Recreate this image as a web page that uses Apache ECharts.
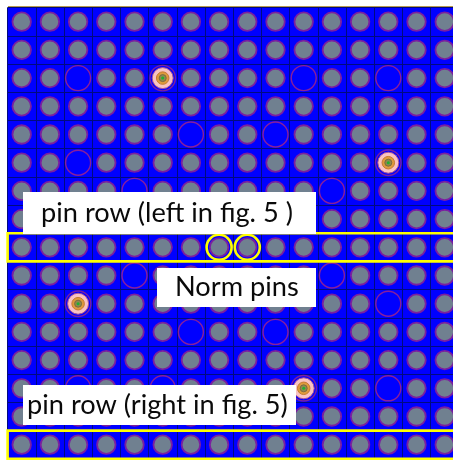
<!DOCTYPE html>
<html>
<head>
<meta charset="utf-8">
<style>
html,body{margin:0;padding:0;background:#fff;overflow:hidden}
#main{width:453px;height:460px}
</style>
<script src="https://cdn.jsdelivr.net/npm/echarts@6/dist/echarts.min.js"></script>
</head>
<body>
<div id="main"></div>
<script>
// o = normal pin, g = empty guide tube, s = instrumented pin, n = norm pin
let pinRows = [
	'oooooooooooooooo',
	'oooooooooooooooo',
	'oogoosoooogoogoo',
	'oooooooooooooooo',
	'oooooogoogoooooo',
	'oogoooooooooosoo',
	'oooogoooooogoooo',
	'oooooooooooooooo',
	'ooooooonnooooooo',
	'oooogoooooogoooo',
	'oosoooooooooogoo',
	'oooooogoogoooooo',
	'oooooooooooooooo',
	'oogoogoooosoogoo',
	'oooooooooooooooo',
	'oooooooooooooooo'
];

let boxedRows = [8, 15];
let labelTexts = ['pin row (left in fig. 5 )', 'Norm pins', 'pin row (right in fig. 5)'];

let normal = [], guide = [], special = [], norm = [];
for (let r in pinRows) {
	for (let c = 0; c < 16; c++) {
		let p = [c + 0.5, +r + 0.5];
		let t = pinRows[r][c];
		if (t == 'g') guide.push(p);
		else if (t == 's') special.push(p);
		else {
			normal.push(p);
			if (t == 'n') norm.push(p);
		}
	}
}

function pins(data, size, fill, border, bw, z) {
	return {
		type: 'scatter',
		data: data,
		symbol: 'circle',
		symbolSize: size,
		silent: true,
		animation: false,
		z: z || 2,
		itemStyle: { color: fill, borderColor: border, borderWidth: bw || 0, opacity: 1 }
	};
}

function labelBox(left, top, width, height, text, textLeft) {
	return [
		{ type: 'rect', z: 100, shape: { x: left, y: top, width: width, height: height }, style: { fill: '#fff' } },
		{ type: 'text', z: 101, x: textLeft, y: top + height / 2, style: { text: text, fill: '#0a0a0a', font: '27.2px Lato', verticalAlign: 'middle' } }
	];
}

let chart = echarts.init(document.getElementById('main'), null, { renderer: 'canvas' });
let series = [
	pins(normal, 18.5, '#708090', '#7a1fa0', 1.8),
	pins(guide, 25, 'rgba(0,0,0,0)', '#8a1f9a', 1.4),
	pins(special, 25.5, 'rgba(0,0,0,0)', '#7a1fa0', 1.4),
	pins(special, 21, '#f9c3c0', '#a8509a', 1),
	pins(special, 12.5, '#df9a3c', '#c57a30', 1, 3),
	pins(special, 7, '#8d8a50', '#7c6a40', 1, 3),
	pins(special, 3, '#20b030', '#20b030', 0, 4),
	pins(norm, 25, 'rgba(0,0,0,0)', '#ffff00', 2.6, 5)
];
series[0].markArea = {
	silent: true,
	z: 6,
	itemStyle: { color: 'rgba(0,0,0,0)', borderColor: '#ffff00', borderWidth: 2.6 },
	data: boxedRows.map(function (r) { return [{ coord: [0, r] }, { coord: [16, r + 1] }]; })
};

chart.setOption({
	animation: false,
	backgroundColor: '#fff',
	grid: { left: 7.6, top: 7.6, width: 451.2, height: 451.2, show: true, backgroundColor: '#0000ff', borderWidth: 0, outerBoundsMode: 'none' },
	xAxis: {
		type: 'value', min: 0, max: 16, interval: 1, position: 'top',
		axisLabel: { show: false }, axisTick: { show: false }, axisLine: { show: false },
		splitLine: { show: true, lineStyle: { color: '#000a80', width: 1 } }
	},
	yAxis: {
		type: 'value', min: 0, max: 16, interval: 1, inverse: true,
		axisLabel: { show: false }, axisTick: { show: false }, axisLine: { show: false },
		splitLine: { show: true, lineStyle: { color: '#000a80', width: 1 } }
	},
	series: series,
	graphic: [].concat(
		labelBox(23, 192, 293, 42, labelTexts[0], 41),
		labelBox(157, 268, 159, 39, labelTexts[1], 175),
		labelBox(23, 385, 273, 40, labelTexts[2], 27),
		[{ type: 'rect', z: 90, shape: { x: 8, y: 6, width: 445, height: 1 }, style: { fill: '#b89a50' } }]
	)
});
</script>
</body>
</html>
